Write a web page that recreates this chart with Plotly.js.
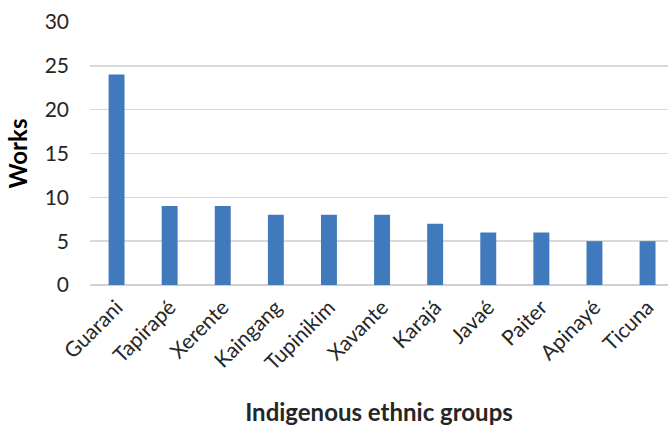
<!DOCTYPE html>
<html>
<head>
<meta charset="utf-8">
<script src="https://cdn.plot.ly/plotly-3.0.1.min.js"></script>
<style>html,body{margin:0;padding:0;background:#fff;}#chart{width:668px;height:427px;}</style>
</head>
<body>
<div id="chart"></div>
<script>
// Number of works per indigenous ethnic group
const groups = ["Guarani", "Tapirapé", "Xerente", "Kaingang", "Tupinikim", "Xavante", "Karajá", "Javaé", "Paiter", "Apinayé", "Ticuna"];
const works = [24, 9, 9, 8, 8, 8, 7, 6, 6, 5, 5];
const yTicks = [0, 5, 10, 15, 20, 25, 30];

const trace = {
  type: "bar",
  x: groups,
  y: works,
  width: 0.3,
  marker: {color: "#4179bd"},
  hoverinfo: "x+y"
};

const layout = {
  width: 668,
  height: 427,
  margin: {l: 90, r: 0, t: 22, b: 142},
  paper_bgcolor: "#ffffff",
  plot_bgcolor: "#ffffff",
  showlegend: false,
  font: {family: "Lato, 'Open Sans', sans-serif", color: "#262626", size: 21},
  xaxis: {
    type: "category",
    range: [-0.5, 10.385],
    tickangle: -45,
    ticks: "",
    showgrid: false,
    showline: false,
    zeroline: false,
    ticklabelstandoff: 5,
    tickfont: {size: 21, color: "#262626"},
    title: {text: "Indigenous ethnic groups", font: {size: 24, color: "#262626", family: "Lato, sans-serif", weight: "bold"}, standoff: 30}
  },
  yaxis: {
    range: [0, 30],
    tickvals: yTicks,
    ticktext: yTicks.map(String),
    showgrid: true,
    gridcolor: "#d9d9d9",
    gridwidth: 1.5,
    zeroline: true,
    zerolinecolor: "#d0d0d0",
    zerolinewidth: 1.5,
    showline: false,
    ticks: "",
    ticklabelstandoff: 20,
    tickfont: {size: 21, color: "#262626"},
    title: {text: "Works", font: {size: 24, color: "#000000", family: "Lato, sans-serif", weight: "bold"}, standoff: 10}
  },
  bargap: 0.7
};

Plotly.newPlot("chart", [trace], layout, {displayModeBar: false, staticPlot: true});
</script>
</body>
</html>
